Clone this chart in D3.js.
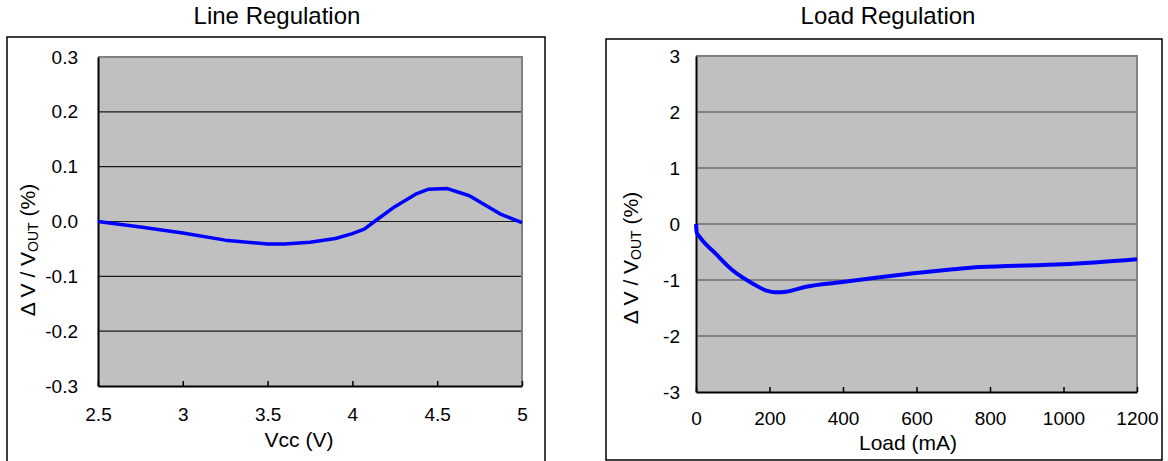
<!DOCTYPE html>
<html>
<head>
<meta charset="utf-8">
<script src="https://cdn.jsdelivr.net/npm/d3@7"></script>
<style>
  html, body { margin: 0; padding: 0; background: #fff; }
  svg { display: block; font-family: "Liberation Sans", Arial, sans-serif; }
</style>
</head>
<body>
<svg id="chart" width="1168" height="461"></svg>
<script>
// ---- Data ----
const lineTitle = "Line Regulation";
const lineXTicks = [2.5, 3, 3.5, 4, 4.5, 5];
const lineYTicks = [-0.3, -0.2, -0.1, 0.0, 0.1, 0.2, 0.3];
const vcc = [2.5, 2.75, 3.0, 3.25, 3.5, 3.6, 3.75, 3.9, 4.0, 4.07, 4.13, 4.25, 4.38, 4.45, 4.56, 4.69, 4.87, 5.0];
const lineDV = [0.0, -0.01, -0.021, -0.034, -0.041, -0.041, -0.038, -0.031, -0.022, -0.014, 0.0, 0.027, 0.051, 0.059, 0.06, 0.047, 0.014, -0.002];

const loadTitle = "Load Regulation";
const loadXTicks = [0, 200, 400, 600, 800, 1000, 1200];
const loadYTicks = [-3, -2, -1, 0, 1, 2, 3];
const loadMA = [0, 2, 11, 52, 102, 156, 192, 215, 245, 300, 392, 500, 592, 700, 773, 1000, 1200];
const loadDV = [0, -0.15, -0.24, -0.52, -0.84, -1.07, -1.19, -1.22, -1.21, -1.12, -1.04, -0.95, -0.88, -0.81, -0.77, -0.72, -0.63];

const svg = d3.select("#chart");
const fmtMinus = f => v => f(v).replace("\u2212", "-");

function panel(cfg) {
  const g = svg.append("g");
  // outer frame
  g.append("rect")
    .attr("x", cfg.frame[0]).attr("y", cfg.frame[1])
    .attr("width", cfg.frame[2] - cfg.frame[0]).attr("height", cfg.frame[3] - cfg.frame[1])
    .attr("fill", "none").attr("stroke", "#000").attr("stroke-width", 1.5);

  const x = d3.scaleLinear().domain(cfg.xDomain).range(cfg.xRange);
  const y = d3.scaleLinear().domain(cfg.yDomain).range(cfg.yRange);
  const [x0, x1] = cfg.xRange, [yb, yt] = cfg.yRange;

  // plot area
  g.append("rect").attr("x", x0).attr("y", yt).attr("width", x1 - x0).attr("height", yb - yt)
    .attr("fill", "#c0c0c0");

  // grid lines
  g.append("g").selectAll("line").data(cfg.yTicks.filter(v => v !== cfg.yDomain[0] && v !== cfg.yDomain[1]))
    .join("line")
    .attr("x1", x0).attr("x2", x1)
    .attr("y1", d => y(d)).attr("y2", d => y(d))
    .attr("stroke", cfg.gridColor).attr("stroke-width", 1.2);

  // top and right border (gray)
  g.append("path").attr("d", `M${x0},${yt}H${x1}V${yb}`)
    .attr("fill", "none").attr("stroke", "#808080").attr("stroke-width", 2);

  // x axis with inward ticks
  const xAxis = d3.axisBottom(x).tickValues(cfg.xTicks).tickSizeInner(-5).tickSizeOuter(0)
    .tickPadding(cfg.xPad).tickFormat(cfg.xFmt);
  const gx = g.append("g").attr("transform", `translate(0,${yb})`).call(xAxis);
  gx.select(".domain").attr("stroke", "#000").attr("stroke-width", 2);
  gx.selectAll(".tick line").attr("stroke", "#000").attr("stroke-width", 1.5);
  gx.selectAll("text").attr("font-size", 19).attr("fill", "#000")
    .attr("font-family", "Liberation Sans, Arial, sans-serif");

  // y axis
  const yAxis = d3.axisLeft(y).tickValues(cfg.yTicks).tickSize(0).tickPadding(cfg.yPad).tickFormat(cfg.yFmt);
  const gy = g.append("g").attr("transform", `translate(${x0},0)`).call(yAxis);
  gy.select(".domain").attr("stroke", "#000").attr("stroke-width", 2);
  gy.selectAll("text").attr("font-size", 19).attr("fill", "#000")
    .attr("font-family", "Liberation Sans, Arial, sans-serif");

  // data line
  const line = d3.line().x(d => x(d[0])).y(d => y(d[1])).curve(cfg.curve);
  g.append("path").datum(cfg.xs.map((v, i) => [v, cfg.ys[i]]))
    .attr("d", line).attr("fill", "none").attr("stroke", "#0000ff")
    .attr("stroke-width", cfg.lineWidth).attr("stroke-linejoin", "round");

  // title
  g.append("text").attr("x", cfg.titleX).attr("y", 24).attr("text-anchor", "middle")
    .attr("font-size", 24).attr("fill", "#000").text(cfg.title);

  // x axis title
  g.append("text").attr("x", cfg.xTitleX).attr("y", cfg.xTitleY).attr("text-anchor", "middle")
    .attr("font-size", cfg.xTitleSize).attr("fill", "#000").text(cfg.xTitle);

  // y axis title
  const yt2 = g.append("text")
    .attr("transform", `translate(${cfg.yTitle[0]},${cfg.yTitle[1]}) rotate(-90)`)
    .attr("text-anchor", "middle").attr("font-size", 21).attr("fill", "#000");
  yt2.append("tspan").text("\u0394  V / V");
  yt2.append("tspan").attr("font-size", 14).attr("dy", 3).text("OUT");
  yt2.append("tspan").attr("dy", -3).text(" (%)");
}

panel({
  frame: [7, 37, 545, 463],
  xDomain: [2.5, 5], xRange: [98, 522],
  yDomain: [-0.3, 0.3], yRange: [386, 57],
  xTicks: lineXTicks, yTicks: lineYTicks,
  xFmt: d => String(d), yFmt: fmtMinus(d3.format(".1f")),
  xPad: 22, yPad: 20,
  gridColor: "#1a1a1a",
  xs: vcc, ys: lineDV, lineWidth: 3.5, curve: d3.curveLinear,
  title: lineTitle, titleX: 277,
  xTitle: "Vcc (V)", xTitleX: 299, xTitleY: 447, xTitleSize: 21,
  yTitle: [35, 250]
});

panel({
  frame: [606, 39, 1162, 460],
  xDomain: [0, 1200], xRange: [696, 1137],
  yDomain: [-3, 3], yRange: [392, 56],
  xTicks: loadXTicks, yTicks: loadYTicks,
  xFmt: d => String(d), yFmt: fmtMinus(d3.format("d")),
  xPad: 20, yPad: 16,
  gridColor: "#444",
  xs: loadMA, ys: loadDV, lineWidth: 4, curve: d3.curveMonotoneX,
  title: loadTitle, titleX: 888,
  xTitle: "Load (mA)", xTitleX: 908, xTitleY: 450, xTitleSize: 21,
  yTitle: [638, 258]
});
</script>
</body>
</html>
